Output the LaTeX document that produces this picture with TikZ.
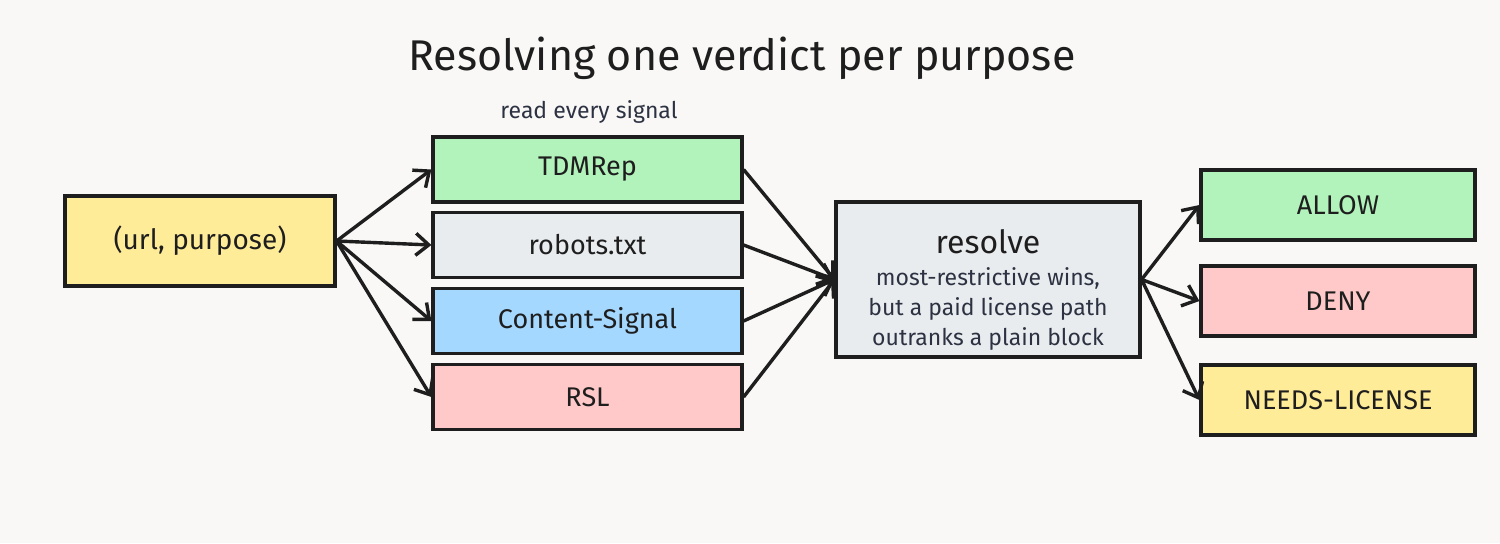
\documentclass[tikz,border=0pt]{standalone}
\usepackage{fontspec}
\setmainfont{Fira Sans}
\usetikzlibrary{arrows.meta, positioning}
\definecolor{ink}{RGB}{30,30,30}
\definecolor{subink}{RGB}{45,50,66}
\definecolor{paper}{RGB}{249,248,246}
\definecolor{yellow1}{RGB}{255,236,153}
\definecolor{green1}{RGB}{178,242,187}
\definecolor{gray1}{RGB}{233,236,239}
\definecolor{blue1}{RGB}{165,216,255}
\definecolor{rose1}{RGB}{255,201,201}
\newcommand{\subtxt}[1]{{\fontsize{11.5}{14.5}\selectfont\color{subink}#1}}

\begin{document}
\begin{tikzpicture}[
    x=0.5pt, y=-0.5pt,
    every node/.style={anchor=center, text=ink},
    myarrow/.style={-{Straight Barb[length=6.5pt,width=11pt]}, line width=1.7pt, ink},
    colframe/.style={rectangle, draw=ink, line width=1.6pt, font=\fontsize{13.5}{16}\selectfont},
    sigframe/.style={colframe, minimum width=154.5pt, minimum height=32.5pt},
    outframe/.style={colframe, minimum width=137pt, minimum height=35pt}
]
\useasboundingbox[fill=paper] (0,0) rectangle (1500,543);

% title and caption
\node[font=\fontsize{21.5}{25}\selectfont] (title) at (742,58) {Resolving one verdict per purpose};
\node[font=\fontsize{11.5}{14}\selectfont, text=subink] (caption) at (589,112) {read every signal};

% input
\node[colframe, fill=yellow1, minimum width=135pt, minimum height=45pt,
      font=\fontsize{14}{16}\selectfont] (query) at (200,241) {(url, purpose)};

% signal sources
\foreach \name/\txt/\col/\y in {tdm/TDMRep/green1/169.5, robots/robots.txt/gray1/245,
    content/Content-Signal/blue1/321, rsl/RSL/rose1/397} {
    \node[sigframe, fill=\col] (\name) at (587.5,\y) {\txt};
}

% resolver
\node[colframe, fill=gray1, minimum width=152pt, minimum height=77.5pt,
      align=center, font=\fontsize{16}{19}\selectfont] (resolve) at (988,279.5)
    {\rule{0pt}{22pt}resolve\\[-3pt]\subtxt{most-restrictive wins,}\\[-4pt]
     \subtxt{but a paid license path}\\[-4pt]
     \subtxt{outranks a plain block}};

% verdicts
\node[outframe, fill=green1] (allow) at (1338,205) {ALLOW};
\node[outframe, fill=rose1] (deny) at (1338,301) {DENY};
\node[outframe, fill=yellow1] (needs) at (1338,400) {NEEDS-LICENSE};

% connectors
\foreach \s in {tdm, robots, content, rsl} {
    \draw[myarrow] (query.east) -- (\s.west);
    \draw[myarrow] (\s.east) -- (resolve.west);
}
\foreach \v in {allow, deny, needs} {
    \draw[myarrow] (resolve.east) -- (\v.west);
}

\end{tikzpicture}
\end{document}
